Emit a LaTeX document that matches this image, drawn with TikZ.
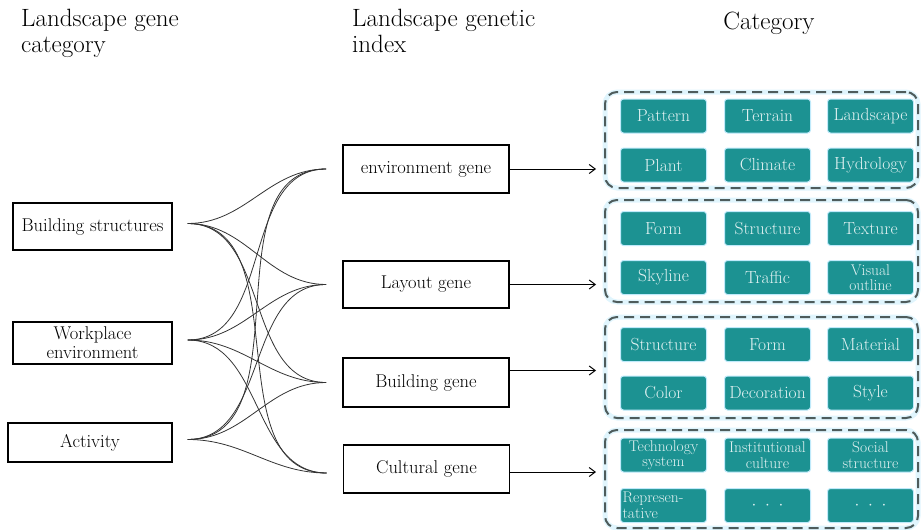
\documentclass[tikz,border=0pt]{standalone}
\usetikzlibrary{arrows.meta}
\definecolor{tealbox}{RGB}{28,146,146}
\definecolor{tealtext}{RGB}{226,242,242}
\definecolor{dashgray}{RGB}{78,92,92}
\tikzset{
  catbox/.style={draw, line width=1.5pt, minimum height=#1, inner sep=1pt, align=center, font=\fontsize{18.5}{19}\selectfont},
  genebox/.style={draw, line width=1.6pt, minimum width=166pt, minimum height=#1, align=center, font=\fontsize{18.5}{19}\selectfont},
  link/.style={black!80, line width=0.8pt},
  pointer/.style={-{Straight Barb[length=6pt,width=9pt]}, line width=1pt},
  group/.style={draw=dashgray, line width=2pt, dash pattern=on 10pt off 6pt, rounded corners=12pt,
    preaction={draw=cyan!12, line width=5pt, solid}, minimum width=313pt},
  item/.style={fill=tealbox, draw=cyan!25, line width=1pt, rounded corners=3pt, minimum width=86pt, minimum height=34pt,
    inner sep=1pt, text=tealtext, align=center, font=\fontsize{17.5}{17}\selectfont},
  small/.style={font=\fontsize{15.5}{15.5}\selectfont}
}
\begin{document}
\begin{tikzpicture}[x=1pt,y=-1pt]
\useasboundingbox (0,0) rectangle (922,530);
% headings
\node[anchor=north west, align=left, inner sep=0pt, font=\fontsize{25}{26}\selectfont] (h1) at (21,9) {Landscape gene\\category};
\node[anchor=north west, align=left, inner sep=0pt, font=\fontsize{25}{26}\selectfont] (h2) at (352,9) {Landscape genetic\\index};
\node[inner sep=0pt, font=\fontsize{25}{26}\selectfont] (h3) at (769,23) {Category};

% left column
\node[catbox=47pt, minimum width=159pt] (bs) at (92.5,226.5) {Building structures};
\node[catbox=42pt, minimum width=159pt] (we) at (92.5,343) {Workplace\\environment};
\node[catbox=39pt, minimum width=164pt] (ac) at (90,442.5) {Activity};

% middle column
\node[genebox=48pt] (eg) at (426,169) {environment gene};
\node[genebox=47pt] (lg) at (426,284.5) {Layout gene};
\node[genebox=49pt] (bg) at (426,382.5) {Building gene};
\node[genebox=48pt] (cg) at (426.5,469) {Cultural gene};

\coordinate (egin) at ([xshift=-16pt]eg.west);
\coordinate (lgin) at ([xshift=-16pt]lg.west);
\coordinate (bgin) at ([xshift=-16pt]bg.west);
\coordinate (cgin) at ([xshift=-16pt,yshift=-4pt]cg.west);

\foreach \s in {bs,we,ac}
  \foreach \t in {eg,lg,bg,cg}
    \draw[link] ([xshift=15pt,yshift=3pt]\s.east) to[out=0,in=180] (\t in);

% category groups
\node[group, minimum height=96pt] (g1) at (761.5,140) {};
\node[group, minimum height=102pt] (g2) at (761.5,251) {};
\node[group, minimum height=101pt] (g3) at (761.5,367.5) {};
\node[group, minimum height=98pt] (g4) at (761.5,479) {};

\draw[pointer] (eg.east) -- ([xshift=-8pt]eg.east -| g1.west);
\draw[pointer] (lg.east) -- ([xshift=-8pt]lg.east -| g2.west);
\draw[pointer] ([yshift=12pt]bg.east) -- ([xshift=-8pt,yshift=12pt]bg.east -| g3.west);
\draw[pointer] ([yshift=-3pt]cg.east) -- ([xshift=-8pt,yshift=-3pt]cg.east -| g4.west);

\foreach \y/\a/\b/\c in {116/Pattern/Terrain/Landscape, 165/Plant/Climate/Hydrology,
    228.5/Form/Structure/Texture, 344.5/Structure/Form/Material, 393/Color/Decoration/Style}{
  \node[item] (i\y a) at (663.5,\y) {\a};
  \node[item] (i\y b) at (767.5,\y) {\b};
  \node[item] (i\y c) at (870.5,\y) {\c};
}
\node[item] (i277a) at (663.5,277.5) {Skyline};
\node[item] (i277b) at (767.5,277.5) {Traffic};
\node[item, small] (i277c) at (870.5,277.5) {Visual\\outline};
\node[item, small] (i455a) at (663.5,455) {Technology\\system};
\node[item, small] (i455b) at (767.5,455) {Institutional\\culture};
\node[item, small] (i455c) at (870.5,455) {Social\\structure};
\node[item, small, align=left, text width=82pt] (i505a) at (663.5,505.5) {Represen-\\tative};
\node[item] (i505b) at (767.5,505.5) {$\cdot\;\cdot\;\cdot$};
\node[item] (i505c) at (870.5,505.5) {$\cdot\;\cdot\;\cdot$};
\end{tikzpicture}
\end{document}
